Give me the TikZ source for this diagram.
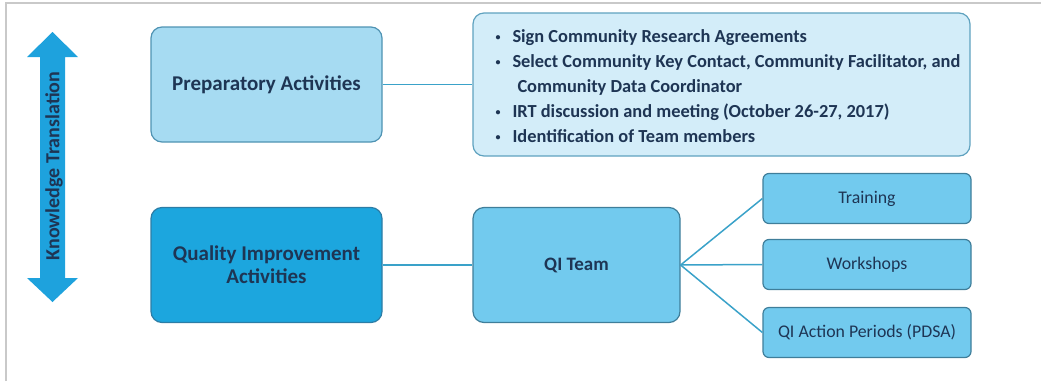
\documentclass[tikz,border=0pt]{standalone}
\usepackage{fontspec}
\setmainfont{Carlito}
\usepackage{tikz}
\usetikzlibrary{calc,positioning}

\definecolor{navytext}{HTML}{1E3554}
\definecolor{prepfill}{HTML}{A6DBF2}
\definecolor{prepline}{HTML}{4F93B3}
\definecolor{actfill}{HTML}{1CA6DE}
\definecolor{actline}{HTML}{2C7DA6}
\definecolor{notefill}{HTML}{D3EDF9}
\definecolor{noteline}{HTML}{5FA2BF}
\definecolor{teamfill}{HTML}{72CAEE}
\definecolor{teamline}{HTML}{3F7E9A}
\definecolor{linkblue}{HTML}{3AA2C9}
\definecolor{arrowblue}{HTML}{1EA2DD}
\definecolor{framegrey}{HTML}{C9C9C9}

\newcommand{\bul}{\hspace*{14pt}\makebox[17pt][l]{\raisebox{2.5pt}{\fontsize{10}{10}\selectfont\textbullet}}}

\begin{document}
\begin{tikzpicture}[x=1pt,y=-1pt,
  box/.style={draw,rounded corners=11pt,line width=1.2pt,text=navytext,align=center,inner sep=0pt,
    font=\fontsize{21}{23}\selectfont\bfseries,minimum width=231pt,minimum height=115pt},
  subbox/.style={draw=teamline,fill=teamfill,rounded corners=6pt,line width=1.2pt,text=navytext,inner sep=0pt,
    font=\fontsize{17.8}{21}\selectfont,minimum width=208pt,minimum height=50pt},
  link/.style={linkblue,line width=1.5pt}]
  \useasboundingbox (0,0) rectangle (1041,381);
  \draw[framegrey,line width=2pt] (6,381) -- (6,3) -- (1041,3);

  \fill[arrowblue] (52.5,32) -- (78,57) -- (65,57) -- (65,278) -- (78,278) -- (52.5,302)
    -- (27,278) -- (40,278) -- (40,57) -- (27,57) -- cycle;
  \node[rotate=90,text=navytext,font=\fontsize{20}{22}\selectfont\bfseries] (kt) at (54,166) {Knowledge Translation};

  \node[box,draw=prepline,fill=prepfill] (prep) at (266.5,84.5) {Preparatory Activities};
  \node[box,draw=actline,fill=actfill] (qia) at (266.5,265) {Quality Improvement\\Activities};

  \node[box,draw=noteline,fill=notefill,minimum width=497pt,minimum height=143pt,
    font=\fontsize{18.4}{25}\selectfont\bfseries] (notes) at (721.5,84.5)
    {\raisebox{-3pt}[\height][\depth]{\makebox[480pt][l]{\begin{tabular}{@{}l@{}}
     \bul Sign Community Research Agreements\\
     \bul Select Community Key Contact, Community Facilitator, and\\
     \hspace*{36pt}Community Data Coordinator\\
     \bul IRT discussion and meeting (October 26-27, 2017)\\
     \bul Identification of Team members
     \end{tabular}}}};

  \node[box,draw=teamline,fill=teamfill,minimum width=207pt,font=\fontsize{19}{21}\selectfont\bfseries] (team) at (576.5,265) {QI Team};

  \node[subbox] (train) at (867,198.5) {Training};
  \node[subbox] (work) at (867,264.5) {Workshops};
  \node[subbox] (pdsa) at (867,332.5) {QI Action Periods (PDSA)};

  \draw[link] (prep.east) -- (notes.west);
  \draw[link] (qia.east) -- (team.west);
  \draw[link] (team.east) -- (train.west);
  \draw[link] (team.east) -- (work.west);
  \draw[link] (team.east) -- (pdsa.west);
\end{tikzpicture}
\end{document}
